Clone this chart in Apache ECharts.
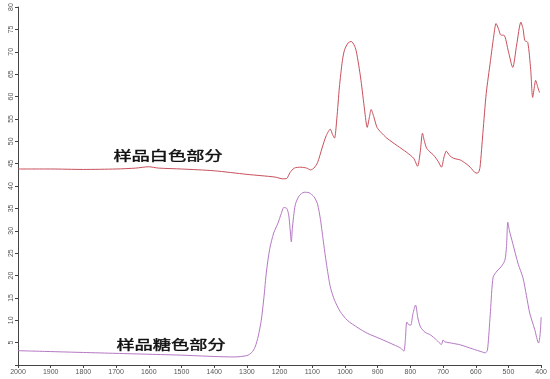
<!DOCTYPE html>
<html>
<head>
<meta charset="utf-8">
<script src="https://cdn.jsdelivr.net/npm/echarts@6/dist/echarts.min.js"></script>
<style>html,body{margin:0;padding:0;background:#fff}#c{width:550px;height:379px}</style>
</head>
<body>
<div id="c"></div>
<script>
const whiteWn = [2000,1900,1800,1700,1640,1600,1570,1500,1400,1300,1214,1190,1178,1168,1155,1135,1117,1105,1095,1084,1070,1057,1045,1038,1032,1025,1017,1008,1001,990,981,972,966,958,951,940,932,925,920,912,902,890,872,840,811,790,778,770,763,757,750,740,729,715,705,697,690,680,668,647,630,617,599,592,587,578,568,555,545,538,530,523,514,500,487,475,462,455,450,441,432,426,420,417,410,405];
const whiteVal = [43.8,43.8,43.7,43.8,44.0,44.3,44.0,43.8,43.4,42.6,42.0,41.6,41.7,43.0,44.0,44.2,44.0,43.6,44.0,45.2,48.5,51.3,52.7,51.5,50.7,55.0,62.1,68.0,70.5,72.0,72.3,71.5,70.3,67.0,63.6,57.0,53.1,55.5,57.1,55.5,53.1,52.0,50.7,49.0,47.5,46.2,44.4,47.5,51.8,50.0,48.4,47.6,46.9,45.5,44.2,46.5,47.8,46.8,46.2,45.8,45.0,44.2,42.9,43.0,44.2,52.0,60.7,68.0,73.5,76.3,75.0,73.7,73.7,70.0,66.5,71.5,76.6,75.0,72.5,72.1,66.0,59.8,62.5,63.6,62.0,60.9];
const brownWn = [2000,1900,1800,1700,1600,1500,1400,1340,1300,1285,1275,1265,1256,1248,1240,1230,1218,1205,1195,1187,1178,1172,1168,1164,1161,1152,1140,1125,1110,1095,1084,1075,1065,1057,1045,1032,1015,993,960,932,890,850,830,820,815,811,805,799,792,784,777,769,755,738,720,705,700,695,675,647,610,580,571,565,562,555,547,535,523,511,506,502,497,487,470,456,445,435,420,408,403,400];
const brownVal = [3.2,3.0,2.8,2.6,2.4,2.2,1.9,1.8,2.1,2.8,4.0,6.5,10.0,15.0,21.0,26.0,29.5,31.7,33.8,35.2,35.0,33.5,30.5,27.5,30.5,35.8,37.8,38.6,38.5,37.6,36.0,32.5,27.0,22.8,17.5,14.5,12.0,10.0,8.3,7.1,5.8,4.5,3.8,3.1,6.0,9.6,9.0,8.9,11.5,13.4,10.5,8.5,7.3,6.7,5.6,4.6,5.6,5.2,4.9,4.5,3.6,2.9,2.7,3.2,4.9,12.0,19.6,21.0,21.9,23.4,26.5,31.9,30.0,27.2,22.5,19.6,15.5,11.6,8.0,4.9,7.0,10.7];
const xTicks = ['2000','1900','1800','1700','1600','1500','1400','1300','1200','1100','1000','900','800','700','600','500','400'];
const labelWhite = '样品白色部分';
const labelBrown = '样品糖色部分';

const chart = echarts.init(document.getElementById('c'), null, {renderer:'canvas'});
const pair = (a,b) => a.map((x,i)=>[x,b[i]]);
chart.setOption({
  animation:false,
  backgroundColor:'#fff',
  grid:{left:18,right:2,top:7,bottom:14,containLabel:false},
  xAxis:{type:'value',inverse:true,min:400,max:2000,interval:100,
    axisLine:{show:true,lineStyle:{color:'#444',width:1}},
    axisTick:{show:true,length:3,lineStyle:{color:'#444'}},
    axisLabel:{fontSize:7,color:'#555',margin:4,fontFamily:'Liberation Sans',
      formatter:v=>xTicks[Math.round((2000-v)/100)]},
    splitLine:{show:false}},
  yAxis:{type:'value',min:0,max:80,interval:5,
    axisLine:{show:true,lineStyle:{color:'#444',width:1}},
    axisTick:{show:true,length:3,lineStyle:{color:'#444'}},
    axisLabel:{fontSize:7,color:'#555',margin:3,rotate:90,fontFamily:'Liberation Sans',
      formatter:v=>v===0?'':String(v)},
    splitLine:{show:false}},
  series:[
    {type:'line',data:pair(whiteWn,whiteVal),showSymbol:false,smooth:0.25,
     lineStyle:{color:'#c8505c',width:1}},
    {type:'line',data:pair(brownWn,brownVal),showSymbol:false,smooth:0.25,
     lineStyle:{color:'#b578c4',width:1}}
  ],
  graphic:[
    {type:'text',x:168,y:155,scaleX:1.4,style:{text:labelWhite,fontSize:13,fontWeight:'normal',
      fontFamily:'Noto Sans CJK SC',fill:'#111',stroke:'#111',lineWidth:0.4,textAlign:'center',textVerticalAlign:'middle'}},
    {type:'text',x:171,y:344,scaleX:1.4,style:{text:labelBrown,fontSize:13,fontWeight:'normal',
      fontFamily:'Noto Sans CJK SC',fill:'#111',stroke:'#111',lineWidth:0.4,textAlign:'center',textVerticalAlign:'middle'}}
  ]
});
</script>
</body>
</html>
